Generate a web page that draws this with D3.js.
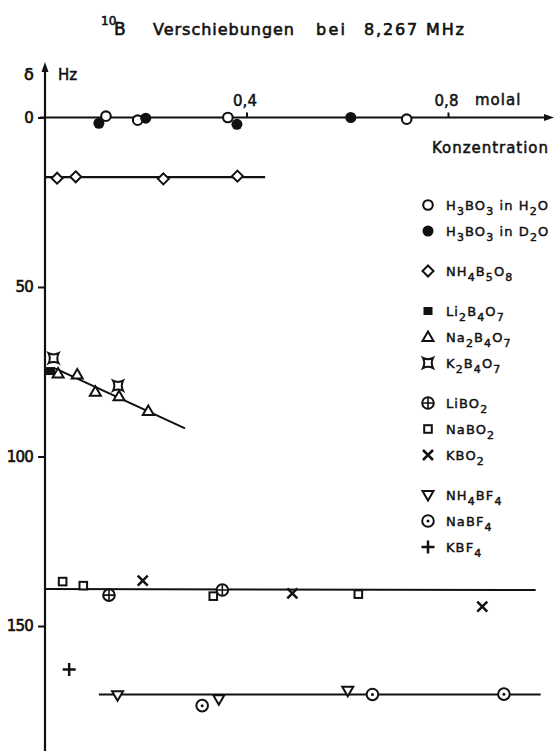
<!DOCTYPE html>
<html>
<head>
<meta charset="utf-8">
<script src="https://cdn.jsdelivr.net/npm/d3@7"></script>
<style>
  html, body { margin: 0; padding: 0; background: #fff; }
  svg { display: block; }
  text { font-family: "DejaVu Sans", sans-serif; fill: #111; }
</style>
</head>
<body>
<svg id="chart" width="556" height="751"></svg>
<script>
// ---------------- DATA (concentration in molal, shift δ in Hz) ----------------
const h3bo3H2O_c = [0.121, 0.184, 0.363, 0.718];
const h3bo3H2O_v = [-0.4, 0.8, 0.0, 0.5];
const h3bo3D2O_c = [0.107, 0.200, 0.381, 0.607];
const h3bo3D2O_v = [1.7, 0.2, 2.0, 0.0];
const nh4b5o8_c = [0.024, 0.061, 0.235, 0.382];
const nh4b5o8_v = [17.9, 17.5, 18.1, 17.3];
const li2b4o7_c = [0.011];
const li2b4o7_v = [74.8];
const na2b4o7_c = [0.026, 0.064, 0.100, 0.147, 0.205];
const na2b4o7_v = [75.5, 75.8, 80.9, 82.2, 86.6];
const k2b4o7_c = [0.017, 0.145];
const k2b4o7_v = [71.0, 79.1];
const libo2_c = [0.127, 0.352];
const libo2_v = [140.9, 139.4];
const nabo2_c = [0.035, 0.076, 0.334, 0.622];
const nabo2_v = [136.9, 138.1, 141.2, 140.6];
const kbo2_c = [0.194, 0.491, 0.868];
const kbo2_v = [136.6, 140.4, 144.3];
const nh4bf4_c = [0.144, 0.345, 0.601];
const nh4bf4_v = [170.4, 171.6, 169.1];
const nabf4_c = [0.312, 0.650, 0.911];
const nabf4_v = [173.5, 170.2, 170.1];
const kbf4_c = [0.048];
const kbf4_v = [162.8];

// drawn trend lines (endpoints)
const fitNH4B5O8_c = [0.0, 0.437];   const fitNH4B5O8_v = [17.6, 17.6];
const fitNa2B4O7_c = [0.02, 0.278];  const fitNa2B4O7_v = [74.0, 91.7];
const fitMetaborat_c = [0.0, 0.974]; const fitMetaborat_v = [139.1, 139.4];
const fitFluoroborat_c = [0.107, 0.984]; const fitFluoroborat_v = [170.2, 170.2];

// ticks
const yTicks = [0, 50, 100, 150];
const xTicks = [0.4, 0.8];
const xUnit = "molal";
const xLabel = "Konzentration";
const yLabel = ["δ", "Hz"];

// legend (text with "_x" = subscript x)
const legendLabels = ["H_3BO_3 in H_2O", "H_3BO_3 in D_2O", "NH_4B_5O_8", "Li_2B_4O_7", "Na_2B_4O_7", "K_2B_4O_7",
                      "LiBO_2", "NaBO_2", "KBO_2", "NH_4BF_4", "NaBF_4", "KBF_4"];
const legendSymbols = ["circleOpen", "circleFilled", "diamond", "squareFilled", "triangleUp", "kstar",
                       "circlePlus", "squareOpen", "cross", "triangleDown", "circleDot", "plus"];
const legendGroups = [0, 0, 1, 2, 2, 2, 3, 3, 3, 4, 4, 4];

// ---------------- DRAWING ----------------
const svg = d3.select("#chart");
const ink = "#111";

const x = d3.scaleLinear().domain([0, 0.8]).range([45, 448]);
const y = d3.scaleLinear().domain([0, 150]).range([117.5, 626]);

// Title
const title = svg.append("text").attr("y", 35).style("font-size", "16px")
  .attr("stroke", ink).attr("stroke-width", 0.6);
title.append("tspan").attr("x", 101).attr("y", 25).style("font-size", "12px").text("10");
title.append("tspan").attr("x", 114).attr("y", 35).style("font-size", "17px").text("B");
title.append("tspan").attr("x", 153).attr("y", 35).attr("textLength", 141).text("Verschiebungen");
title.append("tspan").attr("x", 316).attr("y", 35).attr("textLength", 29).text("bei");
title.append("tspan").attr("x", 364).attr("y", 35).attr("textLength", 100).text("8,267 MHz");

// Axes lines with arrows
svg.append("line").attr("x1", x(0)).attr("x2", x(0)).attr("y1", 751).attr("y2", 68)
  .attr("stroke", ink).attr("stroke-width", 2.2);
svg.append("path")
  .attr("d", `M${x(0)},62 L${x(0) - 3.5},72 L${x(0) + 3.5},72 Z`).attr("fill", ink);
svg.append("line").attr("x1", 40).attr("x2", 546).attr("y1", y(0)).attr("y2", y(0))
  .attr("stroke", ink).attr("stroke-width", 2.2);
svg.append("path")
  .attr("d", `M554,${y(0)} L544,${y(0) - 3.5} L544,${y(0) + 3.5} Z`).attr("fill", ink);

// Y axis ticks
const yAxis = d3.axisLeft(y).tickValues(yTicks).tickSize(7).tickPadding(5).tickFormat(d3.format("d"));
const gy = svg.append("g").attr("transform", `translate(${x(0)},0)`).call(yAxis);
gy.select(".domain").remove();
gy.selectAll("line").attr("stroke", ink).attr("stroke-width", 2);
gy.selectAll("text").attr("fill", ink).style("font-size", "15px").style("font-family", "DejaVu Sans, sans-serif")
  .attr("letter-spacing", "-0.8").attr("stroke", ink).attr("stroke-width", 0.6);

// X axis ticks (upwards, labels above)
const xAxis = d3.axisTop(x).tickValues(xTicks).tickSize(5).tickPadding(7)
  .tickFormat(d => d3.format(".1f")(d).replace(".", ","));
const gx = svg.append("g").attr("transform", `translate(0,${y(0)})`).call(xAxis);
gx.select(".domain").remove();
gx.selectAll("line").attr("stroke", ink).attr("stroke-width", 2);
gx.selectAll("text").attr("fill", ink).style("font-size", "15px").style("font-family", "DejaVu Sans, sans-serif")
  .attr("stroke", ink).attr("stroke-width", 0.5).attr("dx", -2);

svg.append("text").attr("x", 475).attr("y", 105).style("font-size", "15px")
  .attr("stroke", ink).attr("stroke-width", 0.5).attr("letter-spacing", "1").text(xUnit);
svg.append("text").attr("x", 432).attr("y", 153).style("font-size", "15px")
  .attr("stroke", ink).attr("stroke-width", 0.5).attr("textLength", 116).text(xLabel);
svg.append("text").attr("x", 24).attr("y", 80).style("font-size", "16px")
  .attr("stroke", ink).attr("stroke-width", 0.7).text(yLabel[0]);
svg.append("text").attr("x", 58).attr("y", 80).style("font-size", "15px")
  .attr("stroke", ink).attr("stroke-width", 0.5).text(yLabel[1]);

// Trend lines
const lineGen = d3.line().x(d => x(d[0])).y(d => y(d[1]));
function drawFit(cs, vs) {
  svg.append("path").datum(cs.map((c, i) => [c, vs[i]]))
    .attr("d", lineGen).attr("fill", "none").attr("stroke", ink).attr("stroke-width", 2.1);
}
drawFit(fitNH4B5O8_c, fitNH4B5O8_v);
drawFit(fitNa2B4O7_c, fitNa2B4O7_v);
drawFit(fitMetaborat_c, fitMetaborat_v);
drawFit(fitFluoroborat_c, fitFluoroborat_v);

// Marker drawing
function marker(g, type, cx, cy) {
  const sw = 2;
  const m = g.append("g").attr("transform", `translate(${cx},${cy})`);
  switch (type) {
    case "circleOpen":
      m.append("circle").attr("r", 4.8).attr("fill", "#fff").attr("stroke", ink).attr("stroke-width", 2.1); break;
    case "circleFilled":
      m.append("circle").attr("r", 5.5).attr("fill", ink); break;
    case "diamond":
      m.append("path").attr("d", "M0,-5.5 L5.5,0 L0,5.5 L-5.5,0 Z").attr("fill", "#fff").attr("stroke", ink).attr("stroke-width", sw); break;
    case "squareFilled":
      m.append("rect").attr("x", -4.5).attr("y", -4).attr("width", 9).attr("height", 8).attr("fill", ink); break;
    case "triangleUp":
      m.append("path").attr("d", "M0,-5.5 L5.5,4 L-5.5,4 Z").attr("fill", "#fff").attr("stroke", ink).attr("stroke-width", sw); break;
    case "triangleDown":
      m.append("path").attr("d", "M-5.5,-4 L5.5,-4 L0,5.5 Z").attr("fill", "#fff").attr("stroke", ink).attr("stroke-width", sw); break;
    case "kstar":
      m.append("path").attr("d", "M-5,-5 Q0,-2.5 5,-5 Q2.5,0 5,5 Q0,2.5 -5,5 Q-2.5,0 -5,-5 Z")
        .attr("fill", "#fff").attr("stroke", ink).attr("stroke-width", sw); break;
    case "circlePlus":
      m.append("circle").attr("r", 5.8).attr("fill", "#fff").attr("stroke", ink).attr("stroke-width", sw);
      m.append("path").attr("d", "M-5.8,0 H5.8 M0,-5.8 V5.8").attr("stroke", ink).attr("stroke-width", 1.6); break;
    case "squareOpen":
      m.append("rect").attr("x", -3.8).attr("y", -3.8).attr("width", 7.6).attr("height", 7.6)
        .attr("fill", "#fff").attr("stroke", ink).attr("stroke-width", sw); break;
    case "cross":
      m.append("path").attr("d", "M-5,-5 L5,5 M5,-5 L-5,5").attr("stroke", ink).attr("stroke-width", 2.5); break;
    case "circleDot":
      m.append("circle").attr("r", 5.8).attr("fill", "#fff").attr("stroke", ink).attr("stroke-width", sw);
      m.append("circle").attr("r", 1.5).attr("fill", ink); break;
    case "plus":
      m.append("path").attr("d", "M-6.5,0 H6.5 M0,-6.5 V6.5").attr("stroke", ink).attr("stroke-width", 2.5); break;
  }
}

const series = [
  [h3bo3H2O_c, h3bo3H2O_v, "circleOpen"],
  [h3bo3D2O_c, h3bo3D2O_v, "circleFilled"],
  [nh4b5o8_c, nh4b5o8_v, "diamond"],
  [li2b4o7_c, li2b4o7_v, "squareFilled"],
  [na2b4o7_c, na2b4o7_v, "triangleUp"],
  [k2b4o7_c, k2b4o7_v, "kstar"],
  [libo2_c, libo2_v, "circlePlus"],
  [nabo2_c, nabo2_v, "squareOpen"],
  [kbo2_c, kbo2_v, "cross"],
  [nh4bf4_c, nh4bf4_v, "triangleDown"],
  [nabf4_c, nabf4_v, "circleDot"],
  [kbf4_c, kbf4_v, "plus"]
];
const gm = svg.append("g");
series.forEach(([cs, vs, t]) => cs.forEach((c, i) => marker(gm, t, x(c), y(vs[i]))));

// Legend
const gl = svg.append("g");
const legY0 = 205, legStep = 26, legGap = 14;
legendLabels.forEach((lab, i) => {
  const ly = legY0 + i * legStep + legendGroups[i] * legGap;
  marker(gl, legendSymbols[i], 428, ly);
  const t = gl.append("text").attr("x", 446).attr("y", ly + 5).style("font-size", "13px")
    .attr("letter-spacing", "1.1").attr("stroke", ink).attr("stroke-width", 0.45);
  const parts = lab.split(/(_.)/).filter(s => s.length);
  let lowered = false;
  parts.forEach(p => {
    if (p[0] === "_") {
      t.append("tspan").attr("dy", lowered ? 0 : 5).style("font-size", "11px").text(p[1]);
      lowered = true;
    } else {
      t.append("tspan").attr("dy", lowered ? -5 : 0).text(p);
      lowered = false;
    }
  });
});
</script>
</body>
</html>
